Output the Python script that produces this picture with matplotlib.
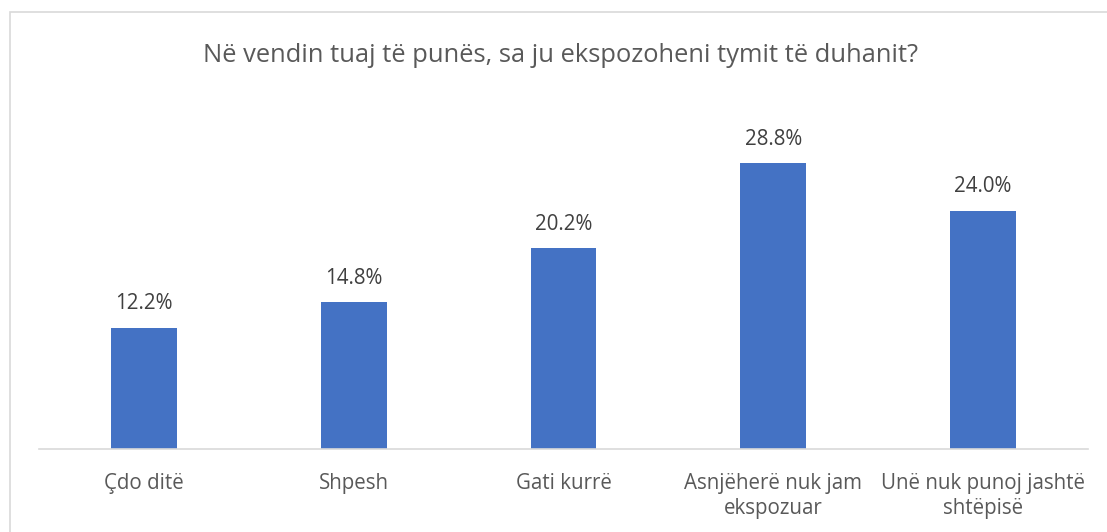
import matplotlib.pyplot as plt
from matplotlib.patches import Rectangle

categories = ["Çdo ditë", "Shpesh", "Gati kurrë", "Asnjëherë nuk jam\nekspozuar", "Unë nuk punoj jashtë\nshtëpisë"]
values = [12.2, 14.8, 20.2, 28.8, 24.0]
title = "Në vendin tuaj të punës, sa ju ekspozoheni tymit të duhanit?"

W, H = 1107, 532
plt.rcParams['font.family'] = ['Open Sans', 'DejaVu Sans']
txt = '#595959'

fig = plt.figure(figsize=(W / 100, H / 100), dpi=100)
fig.patches.append(Rectangle((10 / W, -0.01), 1.01, (H - 12) / H + 0.01, transform=fig.transFigure,
                             fill=False, edgecolor='#d9d9d9', linewidth=1.2))

ymax = 35
ax = fig.add_axes([39 / W, (H - 449) / H, 1049 / W, ymax * 9.93 / H])
x = range(len(categories))
bars = ax.bar(x, values, width=66 / 210, color='#4472c4')
ax.set_xlim(-0.5, len(categories) - 0.5)
ax.set_ylim(0, ymax)
for b, v in zip(bars, values):
    ax.text(b.get_x() + b.get_width() / 2, v + 1.35, f"{v:.1f}%", ha='center', va='bottom',
            fontsize=14.8, color='#404040')

ax.set_xticks(list(x))
ax.set_xticklabels(categories, fontsize=14.8, color=txt, linespacing=1.25)
ax.tick_params(axis='x', length=0, pad=17)
ax.set_yticks([])
for s in ['top', 'right', 'left']:
    ax.spines[s].set_visible(False)
ax.spines['bottom'].set_color('#d9d9d9')
ax.spines['bottom'].set_linewidth(1.2)

fig.text(561 / W, 1 - 55 / H, title, ha='center', va='center', fontsize=18.4, color=txt)

fig.savefig('out.png', dpi=100)
